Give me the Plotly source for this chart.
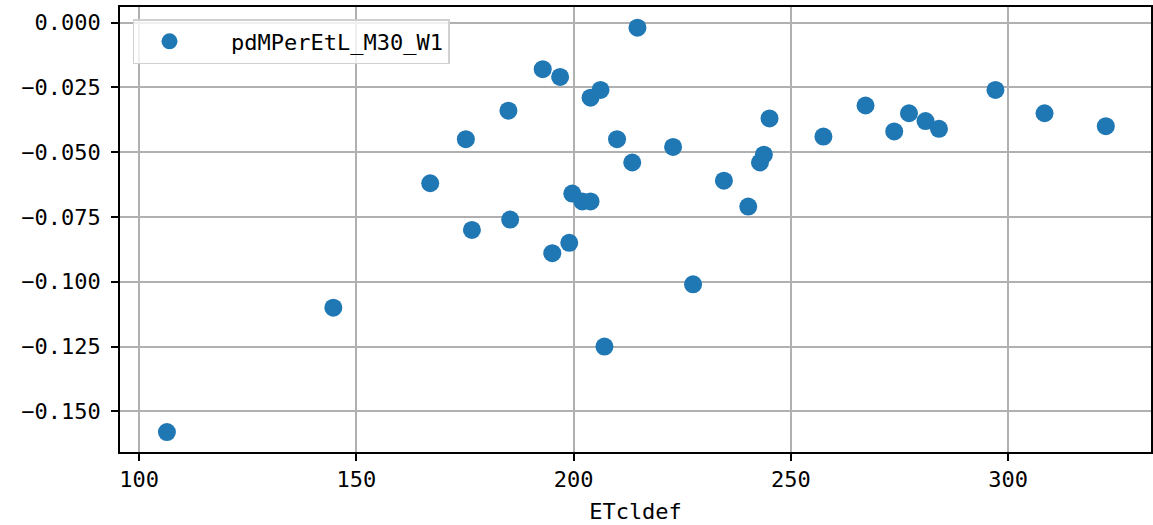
import plotly.graph_objects as go

etcldef = [106.4, 144.7, 167.0, 175.2, 176.6, 185.0, 185.4, 192.9, 195.1, 196.9,
           199.0, 199.7, 202.0, 203.9, 203.9, 206.2, 207.1, 210.0, 213.5, 214.7,
           222.9, 227.5, 234.6, 240.2, 242.9, 243.8, 245.1, 257.5, 267.2, 273.8,
           277.2, 281.0, 284.1, 297.1, 308.4, 322.5]
pd_m_per = [-0.158, -0.110, -0.062, -0.045, -0.080, -0.034, -0.076, -0.018, -0.089, -0.021,
            -0.085, -0.066, -0.069, -0.069, -0.029, -0.026, -0.125, -0.045, -0.054, -0.002,
            -0.048, -0.101, -0.061, -0.071, -0.054, -0.051, -0.037, -0.044, -0.032, -0.042,
            -0.035, -0.038, -0.041, -0.026, -0.035, -0.040]

y_ticks = [0.0, -0.025, -0.05, -0.075, -0.1, -0.125, -0.15]
y_labels = ['0.000', '−0.025', '−0.050', '−0.075', '−0.100', '−0.125', '−0.150']
x_ticks = [100, 150, 200, 250, 300]

FONT = 'DejaVu Sans Mono'

fig = go.Figure(go.Scatter(x=etcldef, y=pd_m_per, mode='markers',
                           name='\u00a0\u00a0pdMPerEtL_M30_W1',
                           marker=dict(color='#1f77b4', size=18)))

fig.update_layout(
    width=1153, height=525,
    margin=dict(l=120, r=2, t=7, b=73, autoexpand=False),
    paper_bgcolor='white', plot_bgcolor='white',
    font=dict(family=FONT, size=22, color='black'),
    showlegend=True,
    legend=dict(x=0.0126, y=0.973, xanchor='left', yanchor='top',
                bgcolor='rgba(255,255,255,0.8)', bordercolor='#d0d0d0',
                borderwidth=1.5, font=dict(size=22), itemwidth=60),
)
fig.update_xaxes(range=[95.6, 332.9], tickvals=x_ticks, automargin=False,
                 showgrid=True, gridcolor='#b0b0b0', gridwidth=1.6,
                 showline=True, linecolor='black', linewidth=1.8, mirror=True,
                 ticks='outside', ticklen=7, tickwidth=1.6, tickcolor='black',
                 zeroline=False,
                 title=dict(text='ETcldef', standoff=12, font=dict(size=22)))
fig.update_yaxes(range=[-0.1657, 0.006], tickvals=y_ticks, ticktext=y_labels,
                 automargin=False,
                 showgrid=True, gridcolor='#b0b0b0', gridwidth=1.6,
                 showline=True, linecolor='black', linewidth=1.8, mirror=True,
                 ticks='outside', ticklen=7, tickwidth=1.6, tickcolor='black',
                 zeroline=False, ticklabelstandoff=6)

# the page's default body margin would push the 1153px figure past the window
fig.write_html("out.html", config={'displayModeBar': False},
               post_script="document.body.style.margin = '0';")
